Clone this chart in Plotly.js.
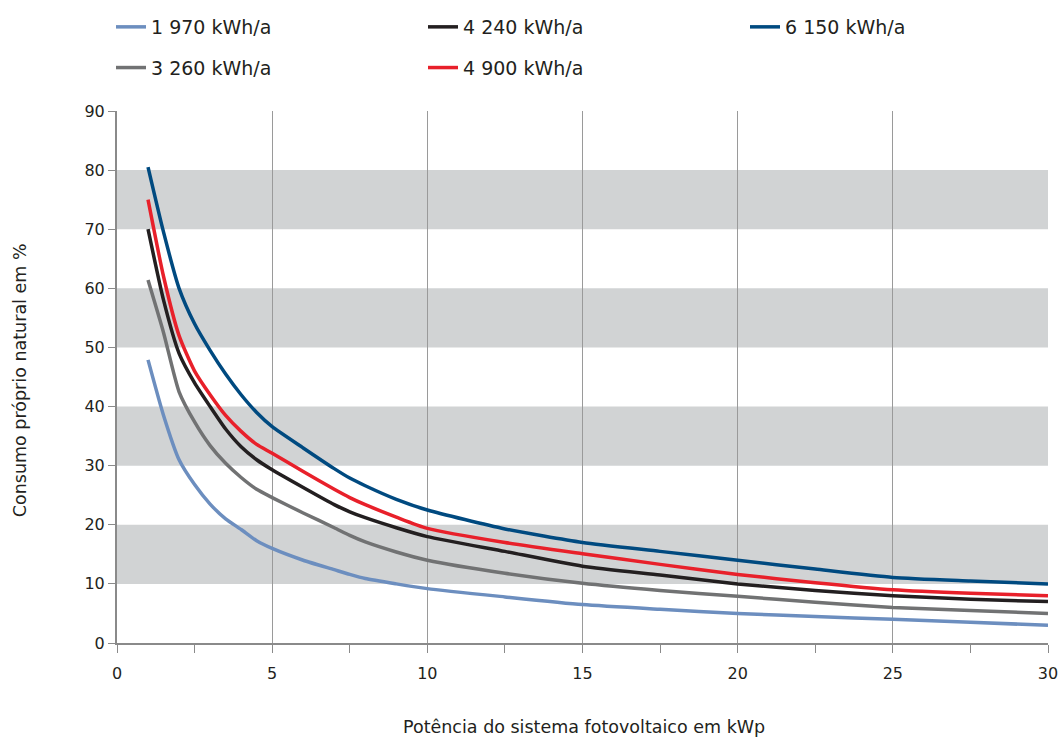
<!DOCTYPE html>
<html>
<head>
<meta charset="utf-8">
<script src="https://cdn.plot.ly/plotly-3.0.1.min.js"></script>
<style>html,body{margin:0;padding:0;background:#fff}#chart{width:1062px;height:740px}</style>
</head>
<body>
<div id="chart"></div>
<script>
// Power of PV system (kWp)
const potencia = [1, 1.5, 2, 2.5, 3, 3.5, 4, 4.5, 5, 6, 7, 7.5, 8, 9, 10, 12.5, 15, 17.5, 20, 22.5, 25, 27.5, 30];

// Natural self-consumption (%) per annual consumption
const consumo1970 = [47.9, 38.5, 31, 26.8, 23.5, 21, 19.2, 17.3, 16, 14, 12.4, 11.6, 10.9, 10, 9.2, 7.8, 6.5, 5.7, 5.0, 4.5, 4.0, 3.5, 3.0];
const consumo3260 = [61.4, 52.5, 42.5, 37.4, 33.4, 30.4, 28, 26, 24.6, 22, 19.5, 18.2, 17.1, 15.4, 14.0, 11.8, 10.1, 8.9, 7.9, 6.9, 6.0, 5.5, 5.0];
const consumo4240 = [70, 58, 49, 44, 40, 36.2, 33.2, 31.0, 29.3, 26.3, 23.4, 22.2, 21.2, 19.5, 18.0, 15.5, 13.0, 11.5, 10.0, 8.9, 8.0, 7.4, 7.0];
const consumo4900 = [75, 62, 52, 46, 42, 38.5, 35.8, 33.6, 32.1, 29, 26, 24.6, 23.4, 21.3, 19.4, 17.0, 15.1, 13.3, 11.6, 10.2, 9.0, 8.4, 8.0];
const consumo6150 = [80.5, 69.5, 60, 54, 49.5, 45.5, 42, 39, 36.6, 33, 29.5, 27.9, 26.6, 24.3, 22.5, 19.3, 17.0, 15.5, 14.0, 12.5, 11.1, 10.5, 10.0];

const seriesNames = ['1 970 kWh/a', '3 260 kWh/a', '4 240 kWh/a', '4 900 kWh/a', '6 150 kWh/a'];
const seriesValues = [consumo1970, consumo3260, consumo4240, consumo4900, consumo6150];
const seriesColors = ['#6c8ebf', '#717273', '#231f20', '#e8202a', '#004a80'];
const seriesLegend = ['legend', 'legend', 'legend2', 'legend2', 'legend3'];

// Gray background bands (y ranges)
const bands = [[10, 20], [30, 40], [50, 60], [70, 80]];

const xTitle = 'Potência do sistema fotovoltaico em kWp';
const yTitle = 'Consumo próprio natural em %';

const FONT = 'DejaVu Sans, Liberation Sans, sans-serif';
const TXT = '#231f20';

const traces = seriesValues.map((vals, i) => ({
  type: 'scatter',
  mode: 'lines',
  x: potencia,
  y: vals,
  name: seriesNames[i],
  legend: seriesLegend[i],
  legendgroup: 'g' + i,
  line: {color: seriesColors[i], width: 3.5, shape: 'spline', smoothing: 0.6},
  hoverinfo: 'x+y+name'
}));

const shapes = bands.map(b => ({
  type: 'rect', xref: 'paper', yref: 'y', x0: 0, x1: 1, y0: b[0], y1: b[1],
  fillcolor: '#d1d3d4', line: {width: 0}, layer: 'below'
}));

const legendCommon = {
  orientation: 'v', xref: 'container', yref: 'container',
  xanchor: 'left', yanchor: 'top', y: 1 - 8/740,
  tracegroupgap: 13,
  font: {family: FONT, size: 19, color: TXT},
  bgcolor: 'rgba(0,0,0,0)', borderwidth: 0, itemclick: false
};

const layout = {
  width: 1062, height: 740,
  paper_bgcolor: '#ffffff', plot_bgcolor: '#ffffff',
  margin: {l: 117, r: 14, t: 111, b: 97, autoexpand: false},
  font: {family: FONT, color: TXT},
  showlegend: true,
  legend: Object.assign({}, legendCommon, {x: 111/1062}),
  legend2: Object.assign({}, legendCommon, {x: 423/1062}),
  legend3: Object.assign({}, legendCommon, {x: 745/1062}),
  shapes: shapes,
  annotations: [
    {text: xTitle, xref: 'paper', yref: 'paper', x: 0.502, y: -0.158, xanchor: 'center', yanchor: 'middle',
     showarrow: false, font: {family: FONT, size: 17.5, color: TXT}},
    {text: yTitle, xref: 'paper', yref: 'paper', x: -0.1042, y: 0.494, xanchor: 'center', yanchor: 'middle',
     textangle: -90, showarrow: false, font: {family: FONT, size: 17.5, color: TXT}}
  ],
  xaxis: {
    range: [0, 30], dtick: 5, tick0: 0,
    showgrid: true, gridcolor: '#9a9a9a', gridwidth: 1,
    zeroline: false,
    showline: true, linecolor: '#8a8a8a', linewidth: 2,
    ticks: 'outside', ticklen: 8, tickcolor: '#8a8a8a', tickwidth: 1,
    minor: {dtick: 2.5, ticks: 'outside', ticklen: 8, tickcolor: '#8a8a8a', tickwidth: 1, showgrid: false},
    ticklabelstandoff: 7,
    tickfont: {family: FONT, size: 16, color: TXT},
    automargin: false, fixedrange: true
  },
  yaxis: {
    range: [0, 90], dtick: 10, tick0: 0,
    showgrid: false, zeroline: false,
    showline: true, linecolor: '#8a8a8a', linewidth: 2,
    ticks: 'outside', ticklen: 7, tickcolor: '#8a8a8a', tickwidth: 1,
    tickfont: {family: FONT, size: 16, color: TXT},
    automargin: false, fixedrange: true
  }
};

Plotly.newPlot('chart', traces, layout, {displayModeBar: false});
</script>
</body>
</html>
